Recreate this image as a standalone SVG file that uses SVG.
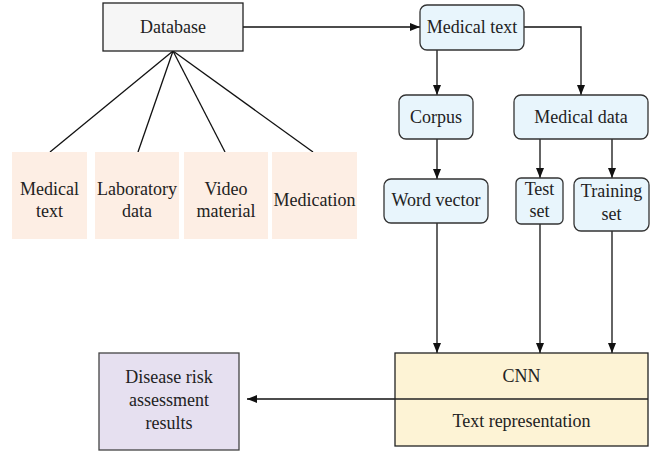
<svg xmlns="http://www.w3.org/2000/svg" width="655" height="451" viewBox="0 0 655 451">
<defs>
<marker id="arr" viewBox="0 0 10 8" refX="10" refY="4" markerWidth="10" markerHeight="8" markerUnits="userSpaceOnUse" orient="auto">
<path d="M0,0 L10,4 L0,8 Z" fill="#111"/>
</marker>
<style>
text{font-size:18px;fill:#222;text-anchor:middle}
.blue{fill:#e8f5fc;stroke:#333;stroke-width:1.3}
.pink{fill:#fdeee4}
.ln{fill:none;stroke:#111;stroke-width:1.3}
.ar{fill:none;stroke:#111;stroke-width:1.3;marker-end:url(#arr)}
</style>
</defs>
<rect width="655" height="451" fill="#fff"/>
<g id="connectors">
<line class="ln" x1="173" y1="51" x2="50" y2="152"/>
<line class="ln" x1="173" y1="51" x2="138" y2="152"/>
<line class="ln" x1="173" y1="51" x2="225" y2="152"/>
<line class="ln" x1="173" y1="51" x2="313" y2="152"/>
<line class="ar" x1="243" y1="27" x2="420" y2="27"/>
<line class="ar" x1="437" y1="50" x2="437" y2="95"/>
<polyline class="ar" points="524,27 581,27 581,95"/>
<line class="ar" x1="437" y1="139" x2="437" y2="179"/>
<line class="ar" x1="540" y1="139" x2="540" y2="178"/>
<line class="ar" x1="612" y1="139" x2="612" y2="178"/>
<line class="ar" x1="437" y1="223" x2="437" y2="353"/>
<line class="ar" x1="540" y1="224" x2="540" y2="353"/>
<line class="ar" x1="612" y1="231" x2="612" y2="353"/>
<line class="ar" x1="395" y1="399" x2="247" y2="399"/>
</g>
<g font-family="'Liberation Serif', 'DejaVu Serif', serif">
<g id="database">
<rect x="103" y="3" width="140" height="48" fill="#f6f6f6" stroke="#222" stroke-width="1.3"/>
<text x="173" y="33">Database</text>
</g>
<g id="src-medical-text">
<rect class="pink" x="12" y="152" width="75" height="87"/>
<text x="49.5" y="195">Medical</text>
<text x="49.5" y="217">text</text>
</g>
<g id="src-laboratory">
<rect class="pink" x="95" y="152" width="84" height="87"/>
<text x="137" y="195">Laboratory</text>
<text x="137" y="217">data</text>
</g>
<g id="src-video">
<rect class="pink" x="184" y="152" width="84" height="87"/>
<text x="226" y="195">Video</text>
<text x="226" y="217">material</text>
</g>
<g id="src-medication">
<rect class="pink" x="272" y="152" width="85" height="87"/>
<text x="314.5" y="206">Medication</text>
</g>
<g id="medical-text">
<rect class="blue" x="420" y="5" width="104" height="45" rx="7"/>
<text x="472" y="33">Medical text</text>
</g>
<g id="corpus">
<rect class="blue" x="399" y="95" width="74" height="44" rx="7"/>
<text x="436" y="123">Corpus</text>
</g>
<g id="medical-data">
<rect class="blue" x="514" y="95" width="134" height="44" rx="7"/>
<text x="581" y="123">Medical data</text>
</g>
<g id="word-vector">
<rect class="blue" x="384" y="179" width="104" height="44" rx="7"/>
<text x="436" y="206">Word vector</text>
</g>
<g id="test-set">
<rect class="blue" x="516" y="178" width="47" height="46" rx="5"/>
<text x="539.5" y="195">Test</text>
<text x="539.5" y="217">set</text>
</g>
<g id="training-set">
<rect class="blue" x="574" y="178" width="75" height="53" rx="7"/>
<text x="611.5" y="197">Training</text>
<text x="611.5" y="220">set</text>
</g>
<g id="cnn">
<rect x="395" y="353" width="253" height="93" fill="#fdf3d5" stroke="#222" stroke-width="1.3"/>
<line x1="395" y1="399" x2="648" y2="399" stroke="#222" stroke-width="1.3"/>
<text x="521.5" y="382">CNN</text>
<text x="521.5" y="427">Text representation</text>
</g>
<g id="results">
<rect x="99" y="353" width="140" height="97" fill="#e6e0f0" stroke="#444" stroke-width="1.3"/>
<text x="169" y="383">Disease risk</text>
<text x="169" y="406">assessment</text>
<text x="169" y="429">results</text>
</g>
</g>
</svg>
